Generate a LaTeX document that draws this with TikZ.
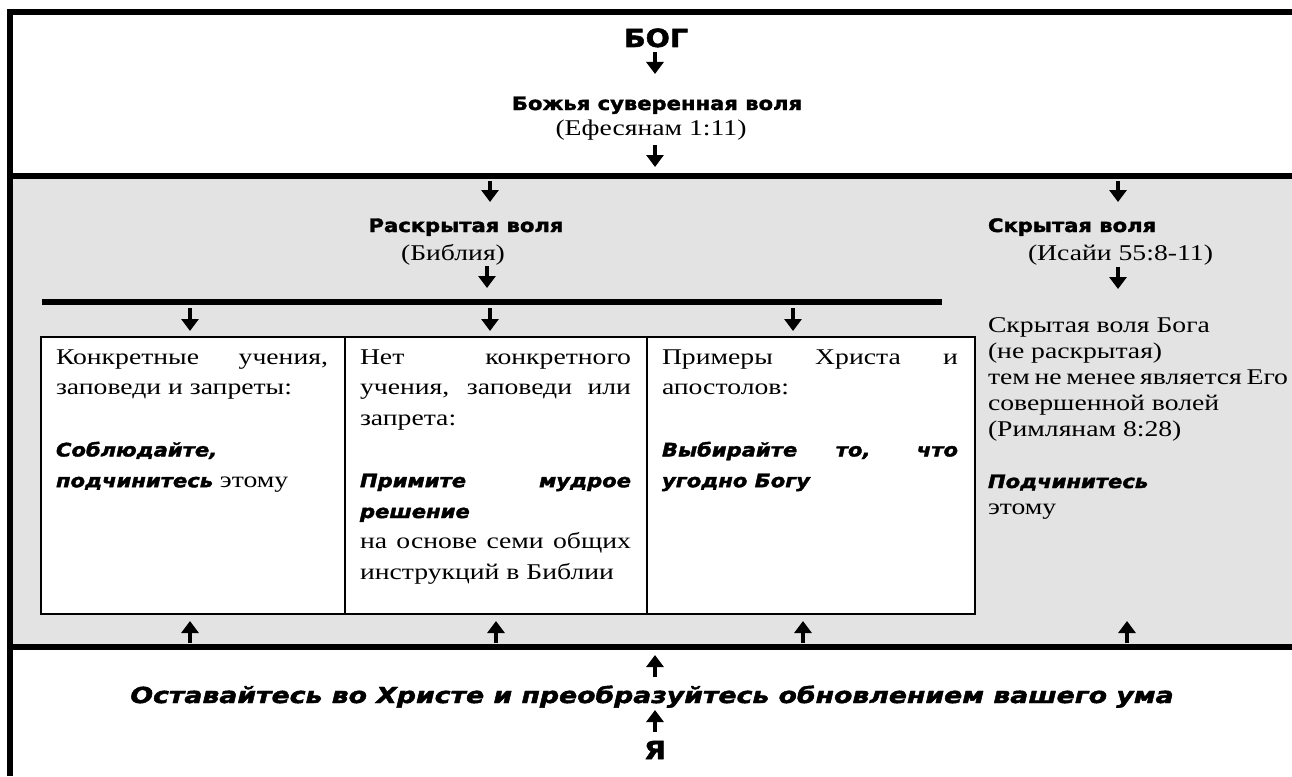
\documentclass[tikz,border=0pt]{standalone}
\usepackage{fontspec}
\setmainfont{Liberation Serif}[FakeStretch=1.23]
\newfontfamily\heavy{DejaVu Sans Bold}[ItalicFont={DejaVu Sans Bold Oblique},FakeBold=2,FakeStretch=1.14]
\usetikzlibrary{arrows.meta}
\definecolor{panelgray}{RGB}{227,227,227}
\newcommand\hvA{\heavy\fontsize{25}{30}\selectfont}
\newcommand\hvB{\heavy\fontsize{18.5}{22}\selectfont}
\newcommand\hvI{\heavy\itshape\fontsize{18.5}{22}\selectfont}
\newcommand\hvJ{\heavy\itshape\fontsize{22}{24}\selectfont}
\newcommand\tm{\fontsize{22.5}{26}\selectfont}
\newcommand\jl[1]{\makebox[\linewidth][s]{#1}\par}
\tikzset{
  frame/.style={line width=6pt},
  cell/.style={draw=black,line width=1.5pt,fill=white},
  arr/.style={line width=4.2pt,-{Triangle[width=17pt,length=12pt]}},
  txt/.style={inner sep=0pt,outer sep=0pt,anchor=base},
  ltxt/.style={inner sep=0pt,outer sep=0pt,anchor=base west},
}
\begin{document}
\begin{tikzpicture}[x=1pt,y=-1pt]
\useasboundingbox (0,0) rectangle (1292,776);
% panels
\fill[panelgray] (13,179) rectangle (1292,644);
\draw[frame] (1292,12) -- (10,12) -- (10,776);
\draw[frame] (10,176) -- (1292,176);
\draw[frame] (10,647) -- (1292,647);
\coordinate (barL) at (42,302);
\coordinate (barR) at (942,302);
\draw[frame] (barL) -- (barR);
% boxes
\node[cell,minimum width=304pt,minimum height=277pt,anchor=north west,inner sep=0pt] (box1) at (40,336) {};
\node[cell,minimum width=302pt,minimum height=277pt,anchor=north west,inner sep=0pt] (box2) at (344,336) {};
\node[cell,minimum width=328pt,minimum height=277pt,anchor=north west,inner sep=0pt] (box3) at (646,336) {};
% top texts
\node[txt] (god) at (656,47) {\hvA БОГ};
\node[txt] (sov) at (657,110) {\hvB Божья суверенная воля};
\node[txt] (eph) at (651,135) {\tm (Ефесянам 1:11)};
\node[txt] (rev) at (466,232) {\hvB Раскрытая воля};
\node[txt] (bib) at (453,260) {\tm (Библия)};
\node[ltxt] (hid) at (988,232) {\hvB Скрытая воля};
\node[ltxt] (isa) at (1028,260) {\tm (Исайи 55:8-11)};
% box texts
\node[ltxt] (t1) at (56,364) {\parbox[t]{272pt}{\tm\baselineskip=30.8pt\lineskiplimit=-20pt\parindent=0pt
\jl{Конкретные учения,}
заповеди и запреты:\par
\mbox{}\par
{\hvI Соблюдайте,}\par
{\hvI подчинитесь} этому}};
\node[ltxt] (t2) at (360,364) {\parbox[t]{271pt}{\tm\baselineskip=30.8pt\lineskiplimit=-20pt\parindent=0pt
\jl{Нет конкретного}
\jl{учения, заповеди или}
запрета:\par
\mbox{}\par
\jl{\hvI Примите мудрое}
{\hvI решение}\par
\jl{на основе семи общих}
инструкций в Библии}};
\node[ltxt] (t3) at (662,364) {\parbox[t]{296pt}{\tm\baselineskip=30.8pt\lineskiplimit=-20pt\parindent=0pt
\jl{Примеры Христа и}
апостолов:\par
\mbox{}\par
\jl{\hvI Выбирайте то, что}
{\hvI угодно Богу}}};
\node[ltxt] (t4) at (988,332) {\parbox[t]{300pt}{\tm\baselineskip=26pt\lineskiplimit=-20pt\parindent=0pt
Скрытая воля Бога\par
(не раскрытая)\par
тем не менее является Его\par
совершенной волей\par
(Римлянам 8:28)\par
\mbox{}\par
{\hvI Подчинитесь}\par
этому}};
% bottom texts
\node[txt] (abide) at (652,703) {\scalebox{1.065}[1]{\hvJ Оставайтесь во Христе и преобразуйтесь обновлением вашего ума}};
\node[txt] (me) at (655,759) {\hvA Я};
% arrows
\foreach \n/\x/\ya/\yb in {d1/655/52/74, d2/655/145/167, d3/490/181/202, d4/1118/181/202,
  d5/487/266/288, d6/1118/267/289, d7/190/308/331, d8/490/308/331, d9/793/308/331,
  u1/190/643/621, u2/496/643/621, u3/803/643/621, u4/1127/643/621,
  u5/655/677/655, u6/655/732/710}{
  \coordinate (\n s) at (\x,\ya);
  \coordinate (\n e) at (\x,\yb);
  \draw[arr] (\n s) -- (\n e);
}
\end{tikzpicture}
\end{document}
